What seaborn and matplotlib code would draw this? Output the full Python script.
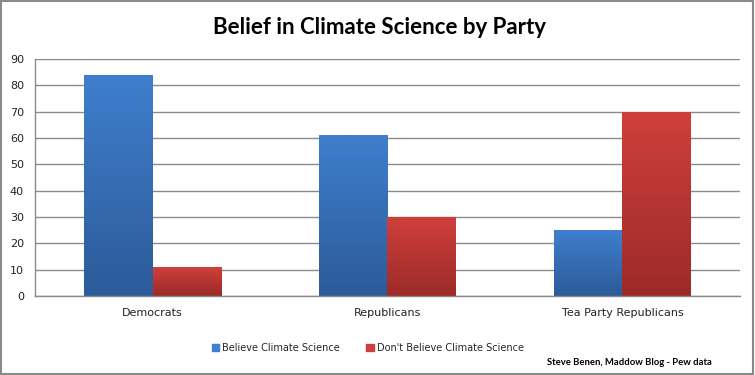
import matplotlib
matplotlib.use('Agg')
import numpy as np
import pandas as pd
import matplotlib.pyplot as plt
import seaborn as sns
from matplotlib.colors import LinearSegmentedColormap
from matplotlib.patches import Rectangle

parties = ['Democrats', 'Republicans', 'Tea Party Republicans']
believe = [84, 61, 25]
dont_believe = [11, 30, 70]
series = ['Believe Climate Science', "Don't Believe Climate Science"]

df = pd.DataFrame({
    'party': parties * 2,
    'pct': believe + dont_believe,
    'series': [series[0]] * 3 + [series[1]] * 3,
})

# top / bottom colours of the gradient fill
grad = {
    series[0]: ('#3f7fcd', '#2c5b99'),
    series[1]: ('#cf3f3b', '#9c2b29'),
}

sns.set_theme(style='white')
plt.rcParams['font.family'] = ['DejaVu Sans']

fig = plt.figure(figsize=(7.55, 3.75), dpi=100)
ax = fig.add_axes([0.0464, 0.2107, 0.9336, 0.632])

sns.barplot(data=df, x='party', y='pct', hue='series', order=parties, hue_order=series,
            palette=[grad[s][0] for s in series], width=0.58, saturation=1,
            linewidth=0, ax=ax)

# gradient fill clipped to each bar
for cont, s in zip(ax.containers, series):
    cmap = LinearSegmentedColormap.from_list(s, [grad[s][1], grad[s][0]])
    for bar in cont:
        x0, y0 = bar.get_x(), bar.get_y()
        w, h = bar.get_width(), bar.get_height()
        im = ax.imshow(np.linspace(0, 1, 100).reshape(-1, 1), cmap=cmap, origin='lower',
                       extent=[x0, x0 + w, y0, y0 + h], aspect='auto', zorder=bar.get_zorder())
        im.set_clip_path(bar)

ax.set_xlim(-0.5, 2.5)
ax.set_ylim(0, 90)
ax.set_yticks(range(0, 91, 10))
ax.yaxis.grid(True, color='#8a8a8a', linewidth=1)
ax.set_axisbelow(True)
ax.set_xlabel('')
ax.set_ylabel('')

for sp in ['top', 'right']:
    ax.spines[sp].set_visible(False)
for sp in ['left', 'bottom']:
    ax.spines[sp].set_color('#8a8a8a')
    ax.spines[sp].set_linewidth(1)

ax.set_xticks([-0.5, 0.5, 1.5, 2.5], minor=True)
ax.tick_params(axis='x', which='major', length=0, labelsize=8, pad=9, colors='#222222')
ax.tick_params(axis='x', which='minor', length=5, color='#8a8a8a', width=1, direction='out')
ax.tick_params(axis='y', length=5, color='#8a8a8a', width=1, direction='out',
               labelsize=8, labelcolor='#222222', pad=3)

handles = [Rectangle((0, 0), 1, 1, color=grad[s][0]) for s in series]
ax.legend(handles, series, loc='center', bbox_to_anchor=(0.472, -0.22), ncol=2, frameon=False,
          fontsize=7, handlelength=0.8, handleheight=0.8, handletextpad=0.3, columnspacing=2.7)

fig.text(0.502, 0.927, 'Belief in Climate Science by Party', ha='center', va='center',
         fontsize=16, fontweight='bold', color='black', family='Lato')
fig.text(0.943, 0.033, 'Steve Benen, Maddow Blog - Pew data', ha='right', va='center',
         fontsize=6.8, fontweight='bold', color='black', family='Lato')

fig.patches.append(Rectangle((0.001, 0.002), 0.997, 0.995, transform=fig.transFigure,
                             fill=False, edgecolor='#8a8a8a', linewidth=1.5))

fig.savefig('out.png', dpi=100)
plt.close()
